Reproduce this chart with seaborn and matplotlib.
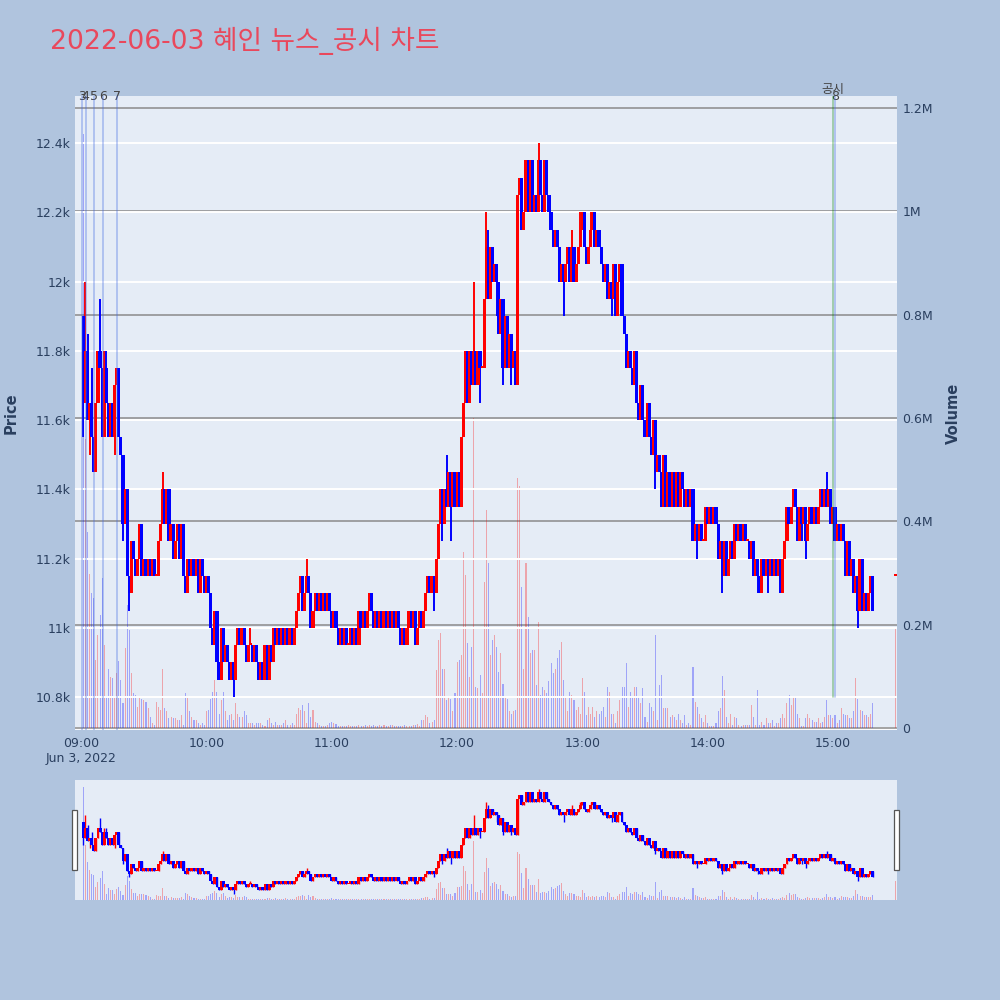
import numpy as np
import pandas as pd
import matplotlib
matplotlib.use('Agg')
import matplotlib.pyplot as plt
import matplotlib.transforms as mtransforms
from matplotlib.patches import Rectangle
import seaborn as sns


# =============================================================================
# values
# prices are in 50-won ticks above 10,000 won, volume in thousands of shares
# one candle per minute from 09:01, plus the 15:30 closing auction
# =============================================================================
first_open_tick = 38
close_ticks = [
    33, 36, 32, 33, 31, 29, 33, 36, 35, 31,
    35, 33, 31, 33, 31, 34, 35, 31, 30, 26,
    28, 23, 22, 25, 24, 23, 24, 26, 23, 24,
    23, 24, 23, 24, 23, 23, 25, 26, 28, 26,
    28, 25, 26, 24, 25, 26, 24, 26, 23, 22,
    24, 23, 24, 23, 24, 22, 24, 23, 22, 23,
    22, 20, 19, 21, 18, 17, 20, 18, 19, 18,
    17, 18, 17, 19, 20, 19, 20, 19, 18, 19,
    19, 18, 19, 18, 17, 18, 17, 19, 17, 19,
    18, 20, 19, 20, 19, 20, 19, 20, 19, 20,
    19, 20, 21, 22, 23, 21, 22, 23, 22, 20,
    21, 22, 21, 22, 21, 22, 21, 22, 21, 20,
    21, 20, 19, 20, 19, 20, 19, 19, 20, 19,
    20, 19, 21, 20, 21, 20, 21, 22, 21, 20,
    21, 20, 21, 20, 21, 20, 21, 20, 21, 20,
    21, 20, 19, 20, 19, 20, 21, 20, 21, 19,
    20, 21, 20, 21, 22, 23, 22, 23, 22, 24,
    26, 28, 26, 28, 27, 29, 27, 29, 27, 29,
    27, 31, 33, 36, 33, 36, 34, 36, 34, 36,
    35, 35, 39, 42, 39, 42, 40, 41, 40, 37,
    39, 35, 38, 35, 37, 35, 36, 34, 45, 46,
    43, 44, 47, 44, 47, 44, 45, 44, 47, 45,
    44, 47, 45, 44, 43, 42, 43, 42, 40, 41,
    40, 41, 42, 40, 42, 40, 41, 42, 43, 44,
    42, 41, 42, 43, 44, 42, 43, 42, 41, 40,
    41, 39, 40, 39, 41, 38, 40, 41, 38, 37,
    35, 36, 35, 34, 36, 33, 32, 34, 32, 31,
    33, 31, 30, 32, 29, 30, 29, 27, 30, 27,
    29, 27, 29, 27, 29, 27, 29, 28, 27, 28,
    27, 28, 25, 26, 25, 26, 25, 25, 27, 26,
    27, 26, 27, 26, 24, 25, 23, 25, 23, 24,
    25, 24, 26, 25, 26, 25, 26, 25, 25, 24,
    25, 23, 24, 23, 22, 24, 23, 24, 23, 24,
    23, 24, 23, 24, 22, 24, 25, 27, 26, 27,
    28, 27, 25, 27, 26, 27, 25, 26, 27, 26,
    27, 26, 27, 28, 27, 28, 27, 28, 26, 27,
    25, 26, 25, 26, 25, 23, 25, 23, 24, 22,
    23, 21, 24, 21, 22, 21, 22, 23, 21,
]

# candles whose wicks reach past the body (minute after 09:00, tick)
high_wick_minutes = [2, 3, 5, 9, 11, 12, 39, 81, 108, 175, 188, 194, 195, 219, 235, 239, 244, 357]
high_wick_ticks = [40, 37, 35, 39, 36, 36, 29, 20, 24, 30, 40, 44, 43, 48, 43, 44, 44, 29]
low_wick_minutes = [1, 4, 16, 20, 23, 73, 169, 173, 177, 191, 199, 202, 206, 231, 254,
                    275, 295, 307, 324, 329, 345, 347, 372]
low_wick_ticks = [31, 30, 30, 25, 21, 16, 21, 25, 25, 33, 38, 34, 34, 38, 38,
                  28, 24, 22, 22, 22, 25, 24, 20]

volume_k = [
    1150, 560, 380, 299, 261, 251, 132, 180, 219, 290,
    161, 61, 115, 99, 96, 61, 106, 130, 93, 48,
    154, 238, 190, 106, 67, 64, 41, 61, 57, 54,
    51, 38, 22, 9, 6, 51, 41, 35, 115, 38,
    32, 19, 22, 19, 19, 15, 15, 25, 6, 68,
    61, 32, 22, 15, 15, 9, 6, 9, 6, 32,
    35, 57, 70, 93, 70, 28, 54, 70, 32, 15,
    25, 28, 15, 48, 28, 22, 22, 32, 25, 9,
    9, 9, 6, 9, 9, 9, 6, 3, 15, 19,
    9, 6, 12, 6, 6, 6, 9, 15, 6, 6,
    9, 6, 28, 38, 35, 45, 32, 9, 48, 22,
    35, 12, 9, 6, 4, 3, 4, 6, 10, 12,
    10, 7, 4, 3, 4, 3, 3, 6, 4, 3,
    3, 4, 6, 4, 3, 6, 4, 6, 3, 6,
    4, 3, 6, 4, 6, 3, 4, 6, 6, 3,
    4, 3, 3, 4, 6, 3, 4, 4, 6, 6,
    7, 4, 15, 15, 25, 22, 9, 12, 15, 112,
    170, 183, 115, 115, 54, 61, 57, 32, 67, 128,
    132, 141, 340, 296, 164, 99, 157, 600, 80, 77,
    103, 67, 283, 422, 320, 141, 170, 180, 157, 109,
    145, 86, 61, 57, 32, 28, 32, 35, 484, 468,
    273, 115, 319, 215, 145, 151, 151, 83, 206, 64,
    80, 74, 67, 90, 125, 106, 115, 135, 150, 167,
    93, 61, 32, 70, 64, 54, 35, 41, 28, 96,
    70, 25, 41, 28, 41, 22, 32, 28, 32, 41,
    22, 80, 70, 28, 28, 9, 32, 54, 80, 80,
    125, 41, 70, 61, 80, 80, 61, 48, 77, 22,
    12, 48, 41, 32, 180, 15, 83, 103, 38, 38,
    38, 22, 25, 22, 15, 28, 15, 9, 25, 6,
    9, 6, 119, 51, 41, 28, 19, 12, 25, 9,
    3, 3, 3, 10, 32, 38, 101, 74, 22, 9,
    28, 6, 22, 19, 6, 3, 6, 6, 6, 6,
    45, 22, 6, 74, 6, 12, 6, 19, 9, 9,
    15, 3, 9, 9, 19, 28, 19, 48, 64, 45,
    61, 61, 28, 19, 3, 3, 19, 28, 19, 15,
    12, 12, 19, 9, 12, 22, 54, 25, 25, 20,
    25, 9, 15, 38, 28, 25, 25, 19, 19, 32,
    96, 57, 35, 32, 25, 25, 22, 28, 48,
]

closing_minute = 390
closing_tick = 23
closing_volume_k = 193

news_labels = ['3', '4', '5', '6', '7', '8']
news_times = ['09:00:12', '09:02:05', '09:06:08', '09:10:25', '09:17:20', '15:01:00']
disclosure_time = '15:00:00'

price_ticks = [10800, 11000, 11200, 11400, 11600, 11800, 12000, 12200, 12400]
price_tick_labels = ['10.8k', '11k', '11.2k', '11.4k', '11.6k', '11.8k', '12k', '12.2k', '12.4k']
volume_ticks = [0, 200000, 400000, 600000, 800000, 1000000, 1200000]
volume_tick_labels = ['0', '0.2M', '0.4M', '0.6M', '0.8M', '1M', '1.2M']
hour_ticks = [0, 60, 120, 180, 240, 300, 360]
hour_labels = ['09:00\nJun 3, 2022', '10:00', '11:00', '12:00', '13:00', '14:00', '15:00']

title = '2022-06-03 혜인 뉴스_공시 차트'


# =============================================================================
# build the candle table
# =============================================================================
minutes = np.array(list(range(1, len(close_ticks) + 1)) + [closing_minute])
close_t = np.array(close_ticks + [closing_tick])
open_t = np.array([first_open_tick] + close_ticks[:-1] + [closing_tick])
high_t = np.maximum(open_t, close_t)
low_t = np.minimum(open_t, close_t)
for m, t in zip(high_wick_minutes, high_wick_ticks):
    high_t[m - 1] = t
for m, t in zip(low_wick_minutes, low_wick_ticks):
    low_t[m - 1] = t

df = pd.DataFrame({
    'minute': minutes,
    'open': 10000 + 50 * open_t,
    'close': 10000 + 50 * close_t,
    'high': 10000 + 50 * high_t,
    'low': 10000 + 50 * low_t,
    'volume': np.array(volume_k + [closing_volume_k]) * 1000,
})
df['dir'] = np.where(df['close'] >= df['open'], 'up', 'down')

base = pd.Timestamp('2022-06-03 09:00:00')
news_minutes = [(pd.Timestamp('2022-06-03 ' + t) - base).total_seconds() / 60 for t in news_times]
disclosure_minute = (pd.Timestamp('2022-06-03 ' + disclosure_time) - base).total_seconds() / 60


# =============================================================================
# style
# =============================================================================
sns.set_theme(style='white')
plt.rcParams['font.family'] = ['DejaVu Sans', 'Noto Sans CJK KR']

BG = '#B0C4DE'
PLOT_BG = '#E5ECF6'
TXT = '#2a3f5f'
UP = '#FF0000'
DOWN = '#0000FF'
PALETTE = {'up': UP, 'down': DOWN}

XLIM = (-3, 390.7)
PRICE_LIM = (10705, 12536)
VOL_LIM = (-3900, 1223200)

fig = plt.figure(figsize=(10, 10), dpi=100)
fig.patch.set_facecolor(BG)


def draw_panel(ax, axv, body_min, wick_lw, body_w):
    colors = df['dir'].map(PALETTE)
    sns.histplot(data=df, x='minute', weights='volume', hue='dir', discrete=True,
                 shrink=0.5, palette=PALETTE, alpha=0.3, linewidth=0,
                 antialiased=False, legend=False, ax=axv)
    bottom = np.minimum(df['open'], df['close'])
    height = np.maximum(np.abs(df['close'] - df['open']), body_min)
    ax.vlines(df['minute'], df['low'], df['high'], colors=colors, linewidth=wick_lw, zorder=3)
    ax.bar(df['minute'], height, bottom=bottom, width=body_w, color=colors, linewidth=0, zorder=3)

    ax.set_xlim(*XLIM)
    axv.set_xlim(*XLIM)
    ax.set_ylim(*PRICE_LIM)
    axv.set_ylim(*VOL_LIM)
    ax.set_zorder(axv.get_zorder() + 1)
    ax.patch.set_visible(False)
    axv.patch.set_visible(True)
    axv.patch.set_facecolor(PLOT_BG)
    for a in (ax, axv):
        for s in a.spines.values():
            s.set_visible(False)
        a.set_xlabel('')
        a.set_ylabel('')


# =============================================================================
# main chart
# =============================================================================
ax = fig.add_axes([0.075, 0.270, 0.822, 0.634])
ax_vol = ax.twinx()
draw_panel(ax, ax_vol, body_min=6, wick_lw=1.4, body_w=1.5)

ax.set_yticks(price_ticks)
ax.set_yticklabels(price_tick_labels)
ax.yaxis.grid(True, color='white', linewidth=1.4)
ax.xaxis.grid(False)
ax_vol.set_yticks(volume_ticks)
ax_vol.set_yticklabels(volume_tick_labels)
ax_vol.yaxis.grid(True, color='#8a8a8a', linewidth=1.1)
ax_vol.axhline(0, color='white', linewidth=2, zorder=0.5)

ax.set_xticks(hour_ticks)
ax.set_xticklabels(hour_labels)
ax.tick_params(axis='x', length=0, pad=5, labelsize=9, colors=TXT)
ax.tick_params(axis='y', length=0, pad=3, labelsize=9, colors=TXT)
ax_vol.tick_params(axis='y', length=0, pad=4, labelsize=9, colors=TXT)

ax.set_ylabel('Price', fontsize=10.5, fontweight='bold', color=TXT)
ax.yaxis.set_label_coords(-0.069, 0.5)
ax_vol.set_ylabel('Volume', fontsize=10.5, fontweight='bold', color=TXT, rotation=90)
ax_vol.yaxis.set_label_coords(1.060, 0.5)

# news and disclosure markers
trans = mtransforms.blended_transform_factory(ax.transData, ax.transAxes)
for lab, m in zip(news_labels, news_minutes):
    ymin = 0.052 if lab == '8' else 0.0
    ax.axvline(m, ymin=ymin, ymax=1, color='royalblue', alpha=0.35, linewidth=1.3, zorder=4)
    ax.text(m, 1.0, lab, transform=trans, ha='center', va='center', fontsize=9,
            color='#444444', clip_on=False)
ax.axvline(disclosure_minute, ymin=0.052, ymax=1, color='green', alpha=0.35, linewidth=1.2, zorder=4)
ax.text(disclosure_minute, 1.011, '공시', transform=trans, ha='center', va='center',
        fontsize=9, color='#444444', clip_on=False)

fig.text(0.05, 0.959, title, fontsize=19.2, color='#E9485C', ha='left', va='center')


# =============================================================================
# range slider
# =============================================================================
ax_s = fig.add_axes([0.075, 0.100, 0.822, 0.120])
ax_sv = ax_s.twinx()
draw_panel(ax_s, ax_sv, body_min=15, wick_lw=1.0, body_w=1.4)
for a in (ax_s, ax_sv):
    a.set_xticks([])
    a.set_yticks([])
    a.grid(False)
for xpos in (-0.0035, 0.9965):
    ax_s.add_patch(Rectangle((xpos, 0.25), 0.006, 0.5, transform=ax_s.transAxes,
                             facecolor='white', edgecolor='#555555', linewidth=0.9,
                             clip_on=False, zorder=10))

fig.savefig('out.png', dpi=100, facecolor=BG)
